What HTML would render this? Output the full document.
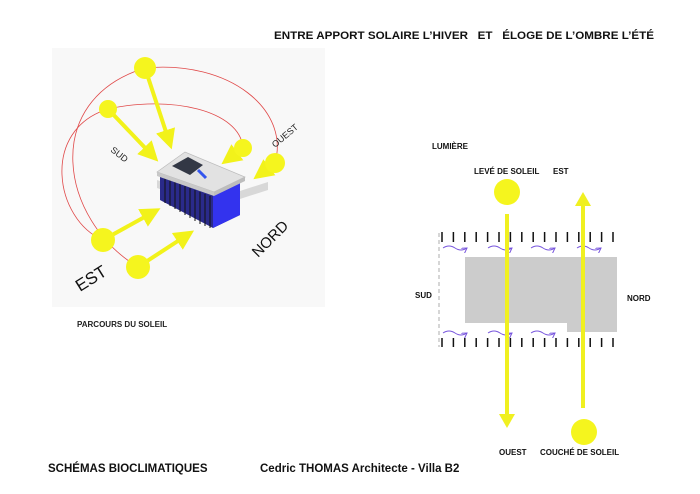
<!DOCTYPE html>
<html><head><meta charset="utf-8"><style>
html,body{margin:0;padding:0;background:#fff;}
svg{display:block;}
text{font-family:"Liberation Sans",Arial,sans-serif;font-weight:bold;white-space:pre;}
</style></head><body>
<svg width="700" height="494" viewBox="0 0 700 494" xmlns="http://www.w3.org/2000/svg" xml:space="preserve">
<defs>
<marker id="ah" markerWidth="5" markerHeight="5" refX="2" refY="2.5" orient="auto" markerUnits="strokeWidth">
<path d="M0,0 L5,2.5 L0,5 z" fill="#f2f21a"/></marker>
<marker id="ay" markerWidth="3.5" markerHeight="4" refX="1.5" refY="2" orient="auto" markerUnits="strokeWidth">
<path d="M0,0 L3.5,2 L0,4 z" fill="#f0f020"/></marker>
<marker id="pv" markerWidth="6" markerHeight="6" refX="5" refY="3" orient="auto" markerUnits="userSpaceOnUse">
<path d="M0,0 L5,3 L0,6" fill="none" stroke="#7755dd" stroke-width="1"/></marker>
</defs>
<text x="274" y="39" font-size="11" fill="#111" textLength="380" lengthAdjust="spacingAndGlyphs">ENTRE APPORT SOLAIRE L’HIVER   ET   ÉLOGE DE L’OMBRE L’ÉTÉ</text>
<rect x="52" y="48" width="273" height="259" fill="#f8f8f8"/>
<g fill="none" stroke="#e04848" stroke-width="0.8">
<path d="M145,68 C40,100 60,220 138,267"/>
<path d="M145,68 C230,60 290,110 275,163"/>
<path d="M108,109 C40,130 55,220 103,240"/>
<path d="M108,109 C170,95 240,110 243,148"/>
</g>
<g stroke="#f2f21a" stroke-width="4" fill="none" marker-end="url(#ah)">
<line x1="145" y1="68" x2="168" y2="138"/>
<line x1="108" y1="109" x2="150" y2="153"/>
<line x1="243" y1="148" x2="231" y2="157"/>
<line x1="275" y1="163" x2="263" y2="172"/>
<line x1="103" y1="240" x2="150" y2="214"/>
<line x1="138" y1="267" x2="184" y2="237"/>
</g>
<polygon points="157,188 157,180 212,200 268,182 268,190 212,208" fill="#d8d8d8"/>
<polygon points="160,172 175,166 213,184 240,177 240,215 213,228 160,200" fill="#2a2a8a"/>
<polygon points="213,184 240,177 240,215 213,228" fill="#3333ee"/>
<g stroke="#111" stroke-width="1">
<line x1="165" y1="178" x2="165" y2="203"/><line x1="170" y1="180" x2="170" y2="206"/>
<line x1="175" y1="182" x2="175" y2="209"/><line x1="180" y1="184" x2="180" y2="212"/>
<line x1="185" y1="186" x2="185" y2="215"/><line x1="190" y1="188" x2="190" y2="218"/>
<line x1="195" y1="190" x2="195" y2="221"/><line x1="200" y1="192" x2="200" y2="224"/>
<line x1="205" y1="194" x2="205" y2="226"/><line x1="210" y1="196" x2="210" y2="228"/>
</g>
<polygon points="157,172 185,152 245,177 214,192" fill="#e2e2e2" stroke="#bbb" stroke-width="0.7"/>
<polygon points="157,172 214,192 214,196 157,176" fill="#c8c8c8"/>
<polygon points="214,192 245,177 245,181 214,196" fill="#bdbdbd"/>
<polygon points="172,166 188,157 203,165 190,175" fill="#333845"/>
<line x1="198" y1="170" x2="206" y2="178" stroke="#3355ee" stroke-width="3"/>
<g fill="#f5f51e">
<circle cx="145" cy="68" r="11"/><circle cx="108" cy="109" r="9"/>
<circle cx="243" cy="148" r="9"/><circle cx="275" cy="163" r="10"/>
<circle cx="103" cy="240" r="12"/><circle cx="138" cy="267" r="12"/>
</g>
<text font-size="9" fill="#222" transform="translate(110,151) rotate(38)" style="font-weight:normal">SUD</text>
<text font-size="9" fill="#222" transform="translate(275,148) rotate(-40)" style="font-weight:normal">OUEST</text>
<text font-size="17" fill="#111" transform="translate(80,292) rotate(-32)" style="font-weight:normal">EST</text>
<text font-size="15" fill="#111" transform="translate(258,258) rotate(-45)" style="font-weight:normal">NORD</text>
<text x="77" y="327" font-size="8" fill="#222">PARCOURS DU SOLEIL</text>
<text x="432" y="149" font-size="8" fill="#111">LUMIÈRE</text>
<text x="474" y="174" font-size="8" fill="#111">LEVÉ DE SOLEIL</text>
<text x="553" y="174" font-size="8" fill="#111">EST</text>
<text x="415" y="298" font-size="8" fill="#111">SUD</text>
<text x="627" y="301" font-size="8" fill="#111">NORD</text>
<text x="499" y="455" font-size="8" fill="#111">OUEST</text>
<text x="540" y="455" font-size="8" fill="#111">COUCHÉ DE SOLEIL</text>
<line x1="439" y1="233" x2="439" y2="347" stroke="#999" stroke-width="0.8" stroke-dasharray="4,3"/>
<path d="M465,257 H617 V332 H567 V323 H465 Z" fill="#cccccc"/>
<g stroke="#111" stroke-width="1.5">
<path d="M442,232v10M453.4,232v10M464.8,232v10M476.2,232v10M487.6,232v10M499,232v10M510.4,232v10M521.8,232v10M533.2,232v10M544.6,232v10M556,232v10M567.4,232v10M578.8,232v10M590.2,232v10M601.6,232v10M613,232v10"/>
<path d="M442,338v9M453.4,338v9M464.8,338v9M476.2,338v9M487.6,338v9M499,338v9M510.4,338v9M521.8,338v9M533.2,338v9M544.6,338v9M556,338v9M567.4,338v9M578.8,338v9M590.2,338v9M601.6,338v9M613,338v9"/>
</g>
<g fill="none" stroke="#7755dd" stroke-width="0.9" marker-end="url(#pv)">
<path d="M443,248 q6,-4 12,0 t12,0"/><path d="M488,248 q6,-4 12,0 t12,0"/>
<path d="M531,248 q6,-4 12,0 t12,0"/><path d="M577,248 q6,-4 12,0 t12,0"/>
<path d="M443,333 q6,-4 12,0 t12,0"/><path d="M488,333 q6,-4 12,0 t12,0"/>
<path d="M531,333 q6,-4 12,0 t12,0"/>
</g>
<g stroke="#f0f020" stroke-width="4" fill="none" marker-end="url(#ay)">
<line x1="507" y1="214" x2="507" y2="420"/>
<line x1="583" y1="408" x2="583" y2="200"/>
</g>
<circle cx="507" cy="192" r="13" fill="#f5f51e"/>
<circle cx="584" cy="432" r="13" fill="#f5f51e"/>
<text x="48" y="472" font-size="11.5" fill="#111">SCHÉMAS BIOCLIMATIQUES</text>
<text x="260" y="472" font-size="11.5" fill="#111">Cedric THOMAS Architecte - Villa B2</text>
</svg>
</body></html>
